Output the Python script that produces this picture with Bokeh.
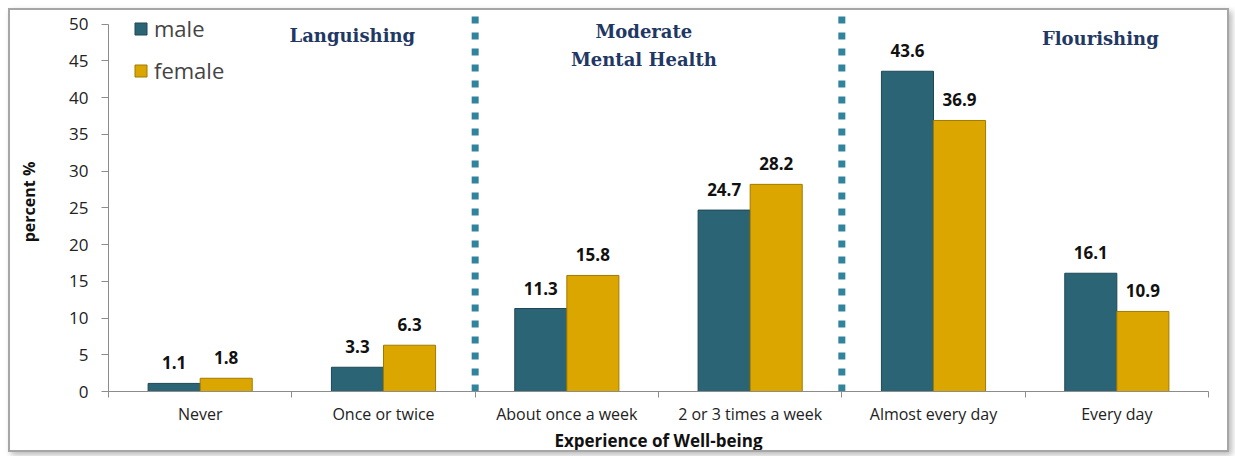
from bokeh.plotting import figure
from bokeh.models import (ColumnDataSource, FixedTicker, Label, Legend, LegendItem,
                          Range1d, LabelSet)
from bokeh.embed import file_html
from bokeh.resources import INLINE
from bokeh.transform import dodge
from bokeh.core.properties import value

# ---- data ----
categories = ["Never", "Once or twice", "About once a week",
              "2 or 3 times a week", "Almost every day", "Every day"]
male = [1.1, 3.3, 11.3, 24.7, 43.6, 16.1]
female = [1.8, 6.3, 15.8, 28.2, 36.9, 10.9]
group_names = ["Languishing", "Moderate\nMental Health", "Flourishing"]
group_sizes = [2, 2, 2]
y_ticks = [0, 5, 10, 15, 20, 25, 30, 35, 40, 45, 50]

# ---- styling ----
MALE_C = "#2B6474"
FEMALE_C = "#DCA600"
SEP_C = "#31849B"
TITLE_C = "#1F3864"
AXIS_C = "#8C8C8C"
SANS = "Open Sans"
SERIF = "DejaVu Serif"

n = len(categories)
xc = [i + 0.5 for i in range(n)]
src = ColumnDataSource(dict(x=xc, male=male, female=female,
                            mlab=[f"{v:.1f}" for v in male],
                            flab=[f"{v:.1f}" for v in female]))

YMAX = 51.6
p = figure(width=1221, height=444, output_backend="svg", toolbar_location=None,
           x_range=Range1d(0, n), y_range=Range1d(0, YMAX),
           min_border_left=98, min_border_right=23, min_border_top=2,
           min_border_bottom=60,
           styles={"border": "2px solid #A6A6A6", "box-shadow": "3px 3px 6px #BBBBBB",
                   "margin-left": "8px", "margin-top": "8px"})
p.xgrid.visible = False
p.ygrid.visible = False
p.outline_line_color = None

bw = 0.284
rm = p.vbar(x=dodge("x", -bw / 2, range=p.x_range), top="male", width=bw, source=src,
            fill_color=MALE_C, line_color="#1E4855", line_width=1)
rf = p.vbar(x=dodge("x", bw / 2, range=p.x_range), top="female", width=bw, source=src,
            fill_color=FEMALE_C, line_color="#A07A00", line_width=1)

for col, off, lab in (("male", -bw / 2, "mlab"), ("female", bw / 2, "flab")):
    p.add_layout(LabelSet(x=dodge("x", off, range=p.x_range), y=col, text=lab, source=src,
                          text_align="center", text_baseline="bottom", y_offset=14,
                          text_font=value(SANS), text_font_style="bold",
                          text_font_size="17px", text_color="#111111"))

# group separators (dotted)
bounds = []
acc = 0
for s in group_sizes[:-1]:
    acc += s
    bounds.append(acc)
for b in bounds:
    p.line([b, b], [0, YMAX], line_color=SEP_C, line_width=7, line_dash="7 9")

# group titles
title_pos = [(1.33, 48.5), (2.92, 47.1), (5.41, 48.0)]
for name, (tx, ty) in zip(group_names, title_pos):
    p.add_layout(Label(x=tx, y=ty, text=name, text_align="center", text_baseline="middle",
                       text_font=SERIF, text_font_style="bold", text_font_size="18px",
                       text_color=TITLE_C, text_line_height=1.35))

# y axis
ya = p.yaxis[0]
ya.ticker = FixedTicker(ticks=y_ticks)
ya.bounds = (0, 50)
ya.axis_label = "percent %"
ya.axis_label_text_font = SANS
ya.axis_label_text_font_style = "bold"
ya.axis_label_text_font_size = "16px"
ya.axis_label_text_color = "#111111"
ya.axis_label_standoff = 26
ya.major_label_text_font = SANS
ya.major_label_text_font_size = "17px"
ya.major_label_text_color = "#222222"
ya.major_tick_out = 7
ya.major_tick_in = 0
ya.minor_tick_out = 0
ya.axis_line_color = AXIS_C
ya.major_tick_line_color = AXIS_C
ya.major_label_standoff = 13

# x axis
xa = p.xaxis[0]
xa.ticker = FixedTicker(ticks=xc, minor_ticks=list(range(n + 1)))
xa.major_label_overrides = {x: c for x, c in zip(xc, categories)}
xa.major_tick_out = 0
xa.major_tick_in = 0
xa.minor_tick_out = 6
xa.minor_tick_in = 0
xa.minor_tick_line_color = AXIS_C
xa.axis_line_color = AXIS_C
xa.major_label_text_font = SANS
xa.major_label_text_font_size = "16px"
xa.major_label_text_color = "#222222"
xa.major_label_standoff = 5
xa.axis_label = "Experience of Well-being"
xa.axis_label_text_font = SANS
xa.axis_label_text_font_style = "bold"
xa.axis_label_text_font_size = "17px"
xa.axis_label_text_color = "#111111"
xa.axis_label_standoff = 1

legend = Legend(items=[LegendItem(label="male", renderers=[rm]),
                       LegendItem(label="female", renderers=[rf])],
                location=(25, 306), orientation="vertical",
                glyph_width=15, glyph_height=15, label_text_font=SANS,
                label_text_font_size="22px", label_standoff=6, spacing=12,
                padding=0, margin=0, border_line_color=None, background_fill_alpha=0)
p.add_layout(legend)

open("out.html", "w").write(file_html(p, INLINE))
